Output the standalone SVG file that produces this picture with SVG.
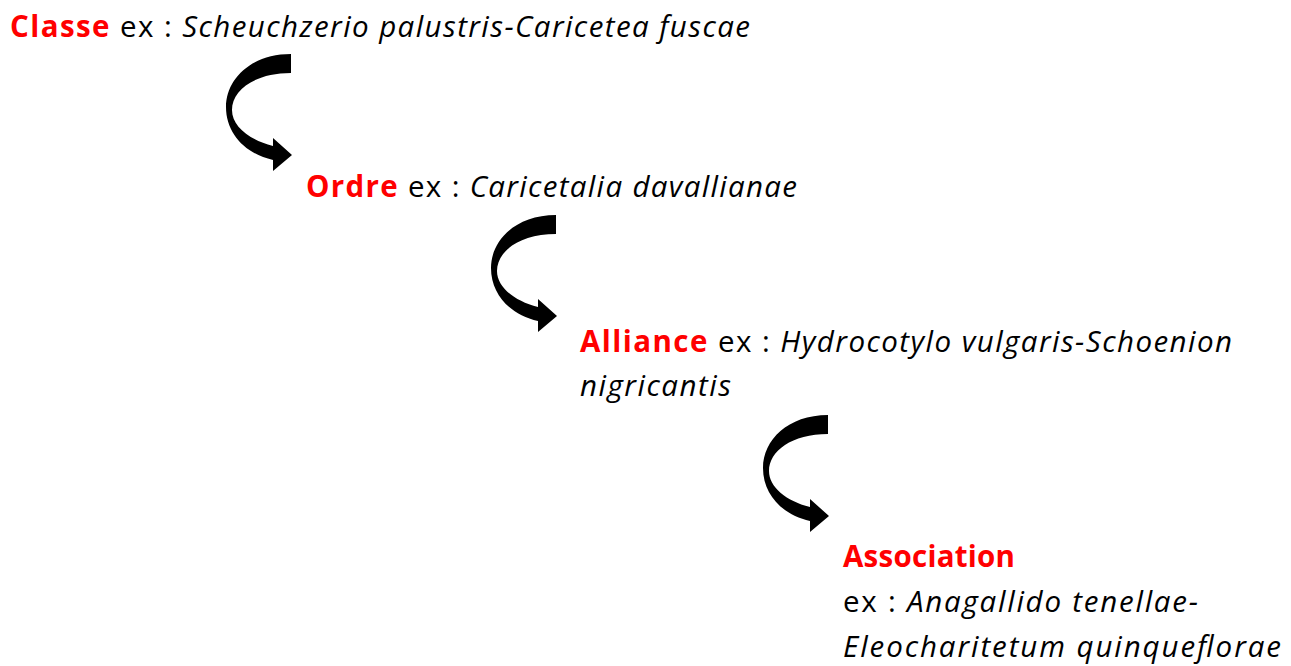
<svg xmlns="http://www.w3.org/2000/svg" width="1291" height="666" viewBox="0 0 1291 666">
<style>
text{font-family:"Open Sans","Noto Sans","Liberation Sans",sans-serif;font-size:29.5px;fill:#000}
.r{fill:#ff0000;font-weight:bold}
.i{font-style:italic}
.arrow{fill:#000}
</style>
<defs>
<path id="carrow" d="M0,0 C-40,0 -65,25 -65,53 C-65,80 -45,100 -18,106 L-18,117 L1,101 L-18,84 L-18,92 C-42,86 -59,72 -59,56 C-59,36 -36,19 0,19 Z"/>
</defs>
<g id="connectors">
<use href="#carrow" class="arrow" transform="translate(291,54)"/>
<use href="#carrow" class="arrow" transform="translate(556,215)"/>
<use href="#carrow" class="arrow" transform="translate(828,415)"/>
</g>
<g id="classe">
<text x="10" y="37" textLength="740"><tspan class="r">Classe</tspan> ex : <tspan class="i">Scheuchzerio palustris-Caricetea fuscae</tspan></text>
</g>
<g id="ordre">
<text x="306" y="197" textLength="491"><tspan class="r">Ordre</tspan> ex : <tspan class="i">Caricetalia davallianae</tspan></text>
</g>
<g id="alliance">
<text x="580" y="352" textLength="652"><tspan class="r">Alliance</tspan> ex : <tspan class="i">Hydrocotylo vulgaris-Schoenion</tspan></text>
<text x="580" y="396" class="i" textLength="151">nigricantis</text>
</g>
<g id="association">
<text x="843" y="567" class="r" textLength="172">Association</text>
<text x="843" y="612" textLength="355">ex : <tspan class="i">Anagallido tenellae-</tspan></text>
<text x="843" y="657" class="i" textLength="438">Eleocharitetum quinqueflorae</text>
</g>
</svg>
